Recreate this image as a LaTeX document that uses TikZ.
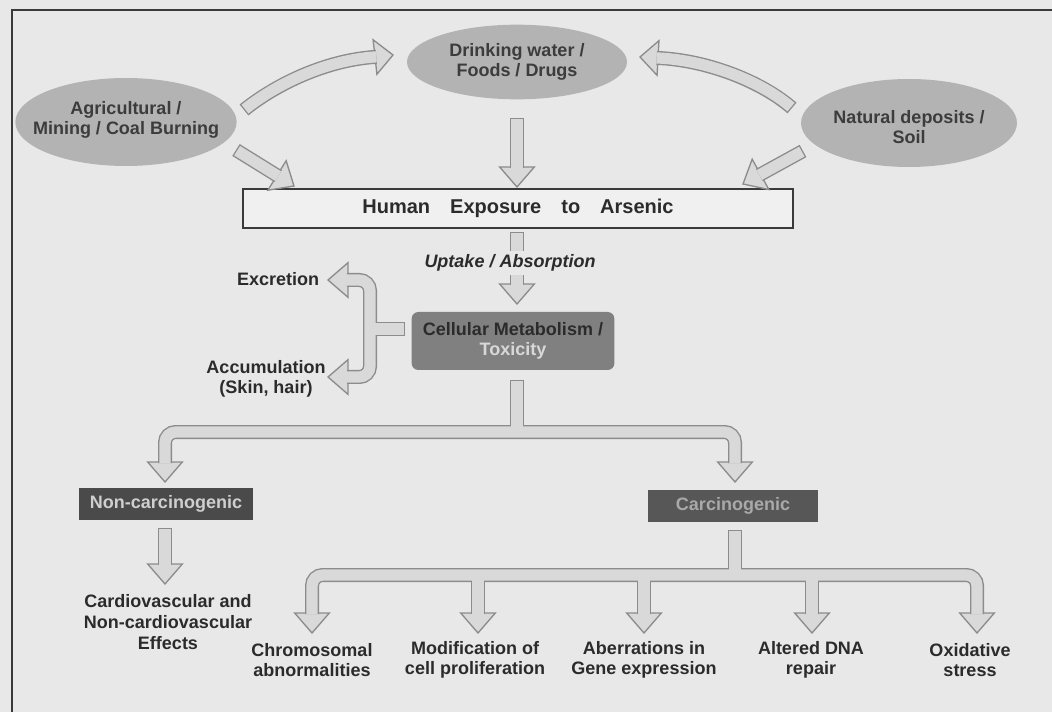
\documentclass[tikz,border=0pt]{standalone}
\usepackage{fontspec}
\setmainfont{Liberation Sans}
\usetikzlibrary{calc,shapes.geometric}
\definecolor{bg}{HTML}{E8E8E8}
\definecolor{frame}{HTML}{3A3A3A}
\definecolor{ellfill}{HTML}{B3B3B3}
\definecolor{elltext}{HTML}{3C3C3C}
\definecolor{arredge}{HTML}{8C8C8C}
\definecolor{arrfill}{HTML}{D9D9D9}
\definecolor{boxfill}{HTML}{F0F0F0}
\definecolor{cellfill}{HTML}{808080}
\definecolor{toxtext}{HTML}{D8D8D8}
\definecolor{ncfill}{HTML}{4A4A4A}
\definecolor{nctext}{HTML}{CFCFCF}
\definecolor{cafill}{HTML}{575757}
\definecolor{catext}{HTML}{A9A9A9}
\definecolor{txt}{HTML}{2B2B2B}
\newcommand{\bhead}[2]{\filldraw[headst] (#2) -- ($(#1)!13pt!90:(#2)$) -- ($(#1)!13pt!-90:(#2)$) -- cycle;}
\newcommand{\sarrow}[2]{%
  \coordinate (hb) at ($(#2)!15pt!(#1)$);
  \bhead{hb}{#2}
  \draw[outer] (#1) -- ($(hb)!1pt!(#2)$);
  \draw[inner, shorten <=1pt] (#1) -- ($(hb)!1pt!(#2)$);}
\begin{document}
\begin{tikzpicture}[x=0.75pt,y=-0.75pt,
  base/.style={font=\bfseries\fontsize{13.5}{15.5}\selectfont, text=txt, align=center, inner sep=2pt},
  ell/.style={ellipse, fill=ellfill, inner sep=0pt},
  elltxt/.style={base, text=elltext},
  outer/.style={draw=arredge, line width=10.5pt},
  inner/.style={draw=arrfill, line width=8.4pt},
  headst/.style={fill=arrfill, draw=arredge, line width=1pt, line join=miter},
  darkbox/.style={base, minimum height=24pt, inner sep=0pt}]
\useasboundingbox (0,0) rectangle (1052,712);
\fill[bg] (0,0) rectangle (1052,712);
\draw[draw=frame, line width=1.5pt] (12,712) -- (12,10) -- (1052,10);

% sources
\node[ell, minimum width=165pt, minimum height=56pt] (dw) at (517,62) {};
\node[elltxt] (dwt) at (dw.center) {Drinking water /\\Foods / Drugs};
\node[ell, minimum width=166pt, minimum height=66pt] (ag) at (126,122) {};
\node[elltxt] (agt) at (126,120) {Agricultural /\\Mining / Coal Burning};
\node[ell, minimum width=162pt, minimum height=66pt] (nd) at (909,123) {};
\node[elltxt] (ndt) at (909,127) {Natural deposits /\\Soil};
\node[base, draw=frame, line width=1.2pt, fill=boxfill, minimum width=412.5pt, minimum height=29pt,
      font=\bfseries\fontsize{15}{17}\selectfont] (hx) at (518,208.5) {Human\hspace{1em}Exposure\hspace{1em}to\hspace{1em}Arsenic};
\node[base, fill=cellfill, rounded corners=5pt, minimum width=152pt, minimum height=43.5pt] (cm) at (513,341)
      {Cellular Metabolism /\\\textcolor{toxtext}{Toxicity}};
\node[darkbox, fill=ncfill, text=nctext, minimum width=130pt] (nc) at (166,504) {Non-carcinogenic};
\node[darkbox, fill=cafill, text=catext, minimum width=128pt] (ca) at (733,506) {Carcinogenic};

% labels
\node[base, anchor=east] (ex) at (322,279) {Excretion};
\node[base] (ac) at (266,379) {Accumulation\\(Skin, hair)};
\node[base] (cv) at (168,622) {Cardiovascular and\\Non-cardiovascular\\Effects};
\node[base] (l1) at (312,660) {Chromosomal\\abnormalities};
\node[base] (l2) at (475,660) {Modification of\\cell proliferation};
\node[base] (l3) at (644,660) {Aberrations in\\Gene expression};
\node[base] (l4) at (811,660) {Altered DNA\\repair};
\node[base] (l5) at (970,660) {Oxidative\\stress};

% curved arrows
\coordinate (c1t) at (244,110); \coordinate (c1b) at (375,57); \coordinate (c1h) at (393,55);
\coordinate (c2t) at (792,108); \coordinate (c2b) at (658,58); \coordinate (c2h) at (640,57);
\bhead{c1b}{c1h}
\bhead{c2b}{c2h}
\draw[outer] (c1t) .. controls (275,85) and (325,60) .. ($(c1b)!1pt!(c1h)$);
\draw[outer] (c2t) .. controls (762,82) and (708,60) .. ($(c2b)!1pt!(c2h)$);
\draw[inner, shorten <=1pt] (c1t) .. controls (275,85) and (325,60) .. ($(c1b)!1pt!(c1h)$);
\draw[inner, shorten <=1pt] (c2t) .. controls (762,82) and (708,60) .. ($(c2b)!1pt!(c2h)$);

% straight arrows
\coordinate (a1t) at (236,150); \coordinate (a1h) at (294,186);
\coordinate (a2t) at (517,118); \coordinate (a2h) at (517,187);
\coordinate (a3t) at (803,151); \coordinate (a3h) at (743,184);
\coordinate (a4t) at (517,232); \coordinate (a4h) at (517,304);
\coordinate (a5t) at (165,528); \coordinate (a5h) at (165,584);
\sarrow{a1t}{a1h}
\sarrow{a2t}{a2h}
\sarrow{a3t}{a3h}
\sarrow{a4t}{a4h}
\sarrow{a5t}{a5h}

% excretion / accumulation bracket
\coordinate (e1h) at (328,280); \coordinate (e1b) at (348,280);
\coordinate (e2h) at (328,377); \coordinate (e2b) at (348,377);
\coordinate (es) at (405,329); \coordinate (ej) at (370,329);
\bhead{e1b}{e1h}
\bhead{e2b}{e2h}
\draw[outer, rounded corners=8pt] (347,280) -- (370,280) -- (370,377) -- (347,377);
\draw[outer] (es) -- (ej);
\draw[inner, rounded corners=8pt] (347,280) -- (370,280) -- (370,377) -- (347,377);
\draw[inner, shorten <=1pt] (es) -- (ej);

% first split
\coordinate (b0) at (517,380); \coordinate (bj) at (517,432);
\coordinate (bLh) at (165,482); \coordinate (bLb) at (165,462);
\coordinate (bRh) at (735,482); \coordinate (bRb) at (735,462);
\bhead{bLb}{bLh}
\bhead{bRb}{bRh}
\draw[outer, rounded corners=8pt] (165,463) -- (165,432) -- (735,432) -- (735,463);
\draw[outer] (b0) -- (bj);
\draw[inner, rounded corners=8pt] (165,463) -- (165,432) -- (735,432) -- (735,463);
\draw[inner, shorten <=1pt] (b0) -- (bj);

% second split
\coordinate (d0) at (735,530); \coordinate (dj) at (735,575);
\foreach \x/\n in {312/1,478/2,644/3,812/4,977/5}{
  \coordinate (dh\n) at (\x,633); \coordinate (db\n) at (\x,613);
  \bhead{db\n}{dh\n}
}
\draw[outer, rounded corners=8pt] (312,614) -- (312,575) -- (977,575) -- (977,614);
\foreach \x in {478,644,812}{\draw[outer] (\x,575) -- (\x,614);}
\draw[outer] (d0) -- (dj);
\draw[inner, rounded corners=8pt] (312,614) -- (312,575) -- (977,575) -- (977,614);
\foreach \x in {478,644,812}{\draw[inner] (\x,575) -- (\x,614);}
\draw[inner, shorten <=1pt] (d0) -- (dj);

\node[base, fill=bg, font=\bfseries\itshape\fontsize{13.5}{15.5}\selectfont, inner sep=3pt] (up) at (510,263) {Uptake / Absorption};
\end{tikzpicture}
\end{document}
